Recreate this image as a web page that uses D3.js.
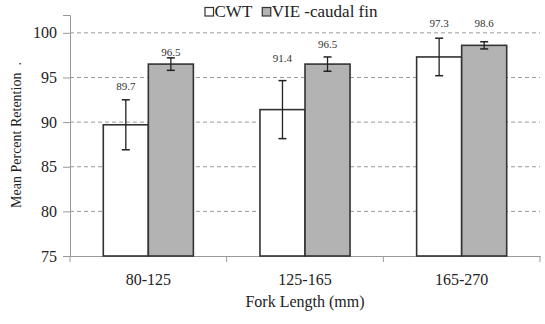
<!DOCTYPE html>
<html>
<head>
<meta charset="utf-8">
<script src="https://cdn.jsdelivr.net/npm/d3@7"></script>
<style>
  body { margin: 0; background: #fff; }
</style>
</head>
<body>
<svg width="545" height="324"></svg>
<script>
// data
const categories = ["80-125", "125-165", "165-270"];
const series = ["CWT", "VIE -caudal fin"];
const cwtValues = [89.7, 91.4, 97.3];
const cwtErrors = [2.8, 3.25, 2.1];
const vieValues = [96.5, 96.5, 98.6];
const vieErrors = [0.7, 0.8, 0.4];
// where each value label sits (data units)
const cwtLabelAt = [94.0, 97.2, 101.1];
const vieLabelAt = [97.85, 98.75, 101.1];
const yTicks = [75, 80, 85, 90, 95, 100];

const FONT = "Liberation Serif, DejaVu Serif, serif";

const svg = d3.select("svg");
const mLeft = 70, mRight = 540, mTop = 15, mBottom = 256;

const x = d3.scaleBand().domain(categories).range([mLeft, mRight]);
const inner = d3.scaleBand().domain(series).range([0, x.bandwidth() * 0.575]);
const groupOff = x.bandwidth() * (1 - 0.575) / 2;
const y = d3.scaleLinear().domain([75, 102]).range([mBottom, mTop]);

const fills = ["#ffffff", "#b3b3b3"];

// dashed grid
svg.append("g")
  .selectAll("line")
  .data(yTicks.filter(d => d > 75))
  .enter()
  .append("line")
  .attr("x1", mLeft).attr("x2", mRight)
  .attr("y1", d => y(d)).attr("y2", d => y(d))
  .attr("stroke", "#9a9a9a")
  .attr("stroke-width", 1)
  .attr("stroke-dasharray", "4,3");

// y axis
const yAxis = svg.append("g")
  .attr("transform", `translate(${mLeft},0)`)
  .call(d3.axisLeft(y).tickValues(yTicks).tickSize(7).tickPadding(6))
  .attr("font-family", FONT);
yAxis.select(".domain").attr("stroke", "#999");
yAxis.selectAll(".tick line").attr("stroke", "#999");
yAxis.selectAll("text")
  .attr("font-size", 16)
  .attr("fill", "#222");

// x axis
const xAxis = svg.append("g")
  .attr("transform", `translate(0,${mBottom})`)
  .call(d3.axisBottom(x).tickSize(0).tickPadding(18))
  .attr("font-family", FONT);
xAxis.select(".domain").attr("stroke", "#999");
xAxis.selectAll("text")
  .attr("font-size", 16)
  .attr("fill", "#222");
// ticks between categories
xAxis.selectAll(".sep")
  .data(categories.concat(["end"]))
  .enter()
  .append("line")
  .attr("class", "sep")
  .attr("x1", (d, i) => mLeft + i * x.bandwidth())
  .attr("x2", (d, i) => mLeft + i * x.bandwidth())
  .attr("y1", 0).attr("y2", 6)
  .attr("stroke", "#999");

// bars
const rows = [
  { name: series[0], values: cwtValues, errors: cwtErrors, labels: cwtLabelAt },
  { name: series[1], values: vieValues, errors: vieErrors, labels: vieLabelAt }
];

rows.forEach((s, si) => {
  const g = svg.append("g").attr("font-family", FONT);
  const bx = (i) => x(categories[i]) + groupOff + inner(s.name);
  const cx = (i) => bx(i) + inner.bandwidth() / 2;

  g.selectAll("rect")
    .data(s.values)
    .enter()
    .append("rect")
    .attr("x", (d, i) => bx(i))
    .attr("y", d => y(d))
    .attr("width", inner.bandwidth())
    .attr("height", d => mBottom - y(d))
    .attr("fill", fills[si])
    .attr("stroke", "#333")
    .attr("stroke-width", 1.6);

  // error bars
  const cap = 4;
  s.values.forEach((v, i) => {
    const hi = y(v + s.errors[i]), lo = y(v - s.errors[i]);
    g.append("line")
      .attr("x1", cx(i)).attr("x2", cx(i))
      .attr("y1", hi).attr("y2", lo)
      .attr("stroke", "#222").attr("stroke-width", 1.3);
    [hi, lo].forEach(yy => {
      g.append("line")
        .attr("x1", cx(i) - cap).attr("x2", cx(i) + cap)
        .attr("y1", yy).attr("y2", yy)
        .attr("stroke", "#222").attr("stroke-width", 1.5);
    });
  });

  g.selectAll("text")
    .data(s.values)
    .enter()
    .append("text")
    .attr("x", (d, i) => cx(i))
    .attr("y", (d, i) => y(s.labels[i]))
    .attr("dy", "0.35em")
    .attr("text-anchor", "middle")
    .attr("font-size", 11)
    .attr("fill", "#333")
    .text(d => d.toFixed(1));
});

// legend
const legend = svg.append("g")
  .attr("transform", "translate(205,7.5)")
  .attr("font-family", FONT);
let lx = 0;
series.forEach((name, i) => {
  legend.append("rect")
    .attr("x", lx).attr("y", 0)
    .attr("width", 8.5).attr("height", 8.5)
    .attr("fill", fills[i])
    .attr("stroke", "#333")
    .attr("stroke-width", 1.2);
  const t = legend.append("text")
    .attr("x", lx + 9.5).attr("y", 9.5)
    .attr("font-size", 17)
    .attr("fill", "#222")
    .text(name);
  lx += 9.5 + t.node().getComputedTextLength() + 10;
});

// axis titles
svg.append("text")
  .attr("x", (mLeft + mRight) / 2)
  .attr("y", 307)
  .attr("text-anchor", "middle")
  .attr("font-family", FONT)
  .attr("font-size", 16)
  .attr("fill", "#222")
  .text("Fork Length (mm)");

svg.append("text")
  .attr("transform", "translate(21,135) rotate(-90)")
  .attr("text-anchor", "middle")
  .attr("font-family", FONT)
  .attr("font-size", 14)
  .attr("fill", "#222")
  .style("white-space", "pre")
  .text("Mean Percent Retention  .");
</script>
</body>
</html>
